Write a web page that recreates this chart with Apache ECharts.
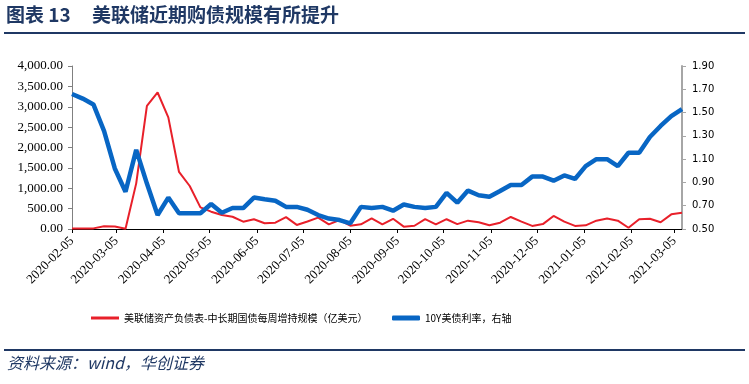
<!DOCTYPE html>
<html><head><meta charset="utf-8">
<script src="https://cdn.jsdelivr.net/npm/echarts@6/dist/echarts.min.js"></script>
<style>html,body{margin:0;padding:0;background:#fff}#c{width:749px;height:384px}</style>
</head><body><div id="c"></div>
<script>
// ---- data ----
const startDate = '2020-02-05';   // first weekly observation
const endDate = '2021-03-10';     // last weekly observation (axis end)
const weekCount = 58;
const fedPurchases = [15,15,15,70,60,5,1120,3020,3350,2740,
  1400,1055,530,425,345,300,180,240,140,155,
  290,100,185,280,115,220,80,115,260,115,
  250,57,80,240,115,240,120,205,165,90,
  155,295,180,75,120,320,180,75,90,205,
  260,205,30,240,250,165,360,400];
const yield10y = [1.66,1.62,1.57,1.34,1.02,0.82,1.18,0.89,0.62,0.77,
  0.635,0.635,0.635,0.715,0.64,0.68,0.68,0.77,0.755,0.743,
  0.69,0.69,0.665,0.62,0.59,0.577,0.549,0.69,0.68,0.69,
  0.657,0.71,0.69,0.68,0.69,0.81,0.726,0.83,0.79,0.777,
  0.826,0.878,0.878,0.95,0.95,0.915,0.96,0.93,1.04,1.10,
  1.10,1.04,1.155,1.155,1.29,1.385,1.47,1.53];
const leftTicks = {min:0, max:4000, step:500};
const rightTicks = {min:0.5, max:1.9, step:0.2};
const seriesNames = ['美联储资产负债表-中长期国债每周增持规模（亿美元）','10Y美债利率，右轴'];
const titleLabel = '图表 13';
const titleText = '美联储近期购债规模有所提升';
const sourceText = '资料来源：wind，华创证券';

// ---- build categories ----
function fmt(d){return d.toISOString().slice(0,10);}
const days = [];
for (let d = new Date(startDate+'T00:00:00Z'); fmt(d) <= endDate; d = new Date(d.getTime()+86400000)) days.push(fmt(d));
const weeks = [];
for (let i=0;i<weekCount;i++) weeks.push(fmt(new Date(new Date(startDate+'T00:00:00Z').getTime()+i*7*86400000)));
const showTick = (idx, val) => val.slice(8) === '05';

const legendText = {fontFamily:'Noto Sans CJK SC', fontSize:10, color:'#000'};
const chart = echarts.init(document.getElementById('c'), null, {renderer:'canvas'});
chart.setOption({
  animation:false,
  backgroundColor:'#fff',
  grid:{left:72, right:67, top:66, bottom:155},
  legend:[{
    left:86, top:308, itemWidth:28, itemHeight:3, icon:'rect',
    textStyle:legendText, data:[seriesNames[0]]
  },{
    left:387, top:308, itemWidth:28, itemHeight:5, icon:'roundRect',
    textStyle:legendText, data:[seriesNames[1]]
  }],
  xAxis:{
    type:'category', data:days, boundaryGap:false,
    axisLine:{lineStyle:{color:'#000', width:1}},
    axisTick:{interval:showTick, length:4, lineStyle:{color:'#000'}},
    axisLabel:{interval:showTick, rotate:45, fontFamily:'Liberation Serif', fontSize:13, color:'#000', margin:10},
    splitLine:{show:false}
  },
  yAxis:[{
    type:'value', position:'left', min:leftTicks.min, max:leftTicks.max, interval:leftTicks.step,
    axisLine:{show:true, lineStyle:{color:'#808080', width:1}},
    axisTick:{show:true, length:4, lineStyle:{color:'#808080'}},
    axisLabel:{fontFamily:'Liberation Serif', fontSize:13, color:'#000', margin:9,
      formatter:v=>v.toLocaleString('en-US',{minimumFractionDigits:2, maximumFractionDigits:2})},
    splitLine:{show:false}
  },{
    type:'value', position:'right', min:rightTicks.min, max:rightTicks.max, interval:rightTicks.step,
    axisLine:{show:true, lineStyle:{color:'#a6a6a6', width:2}},
    axisTick:{show:true, length:4, lineStyle:{color:'#a6a6a6'}},
    axisLabel:{fontFamily:'DejaVu Sans', fontSize:10, color:'#000', margin:10, formatter:v=>v.toFixed(2)},
    splitLine:{show:false}
  }],
  series:[{
    name:seriesNames[0], type:'line', yAxisIndex:0, symbol:'none',
    lineStyle:{color:'#e8202a', width:2}, itemStyle:{color:'#e8202a'},
    data:weeks.map((d,i)=>[d, fedPurchases[i]]), z:2
  },{
    name:seriesNames[1], type:'line', yAxisIndex:1, symbol:'none',
    lineStyle:{color:'#0866c4', width:4.5}, itemStyle:{color:'#0866c4'},
    data:weeks.map((d,i)=>[d, yield10y[i]]), z:3
  }],
  graphic:[
    {type:'text', left:6, top:5, style:{text:titleLabel, fontFamily:'Noto Sans CJK SC', fontWeight:'bold', fontSize:19, fill:'#1f3864'}},
    {type:'text', left:92, top:5, style:{text:titleText, fontFamily:'Noto Sans CJK SC', fontWeight:'bold', fontSize:19, fill:'#1f3864'}},
    {type:'rect', shape:{x:4, y:32, width:741, height:2}, style:{fill:'#1f3864'}},
    {type:'rect', shape:{x:4, y:349, width:741, height:2}, style:{fill:'#1f3864'}},
    {type:'text', left:7, top:355, style:{text:sourceText, fontFamily:'Noto Sans CJK SC', fontStyle:'italic', fontSize:16, fill:'#1f3864'}}
  ]
});
</script></body></html>
